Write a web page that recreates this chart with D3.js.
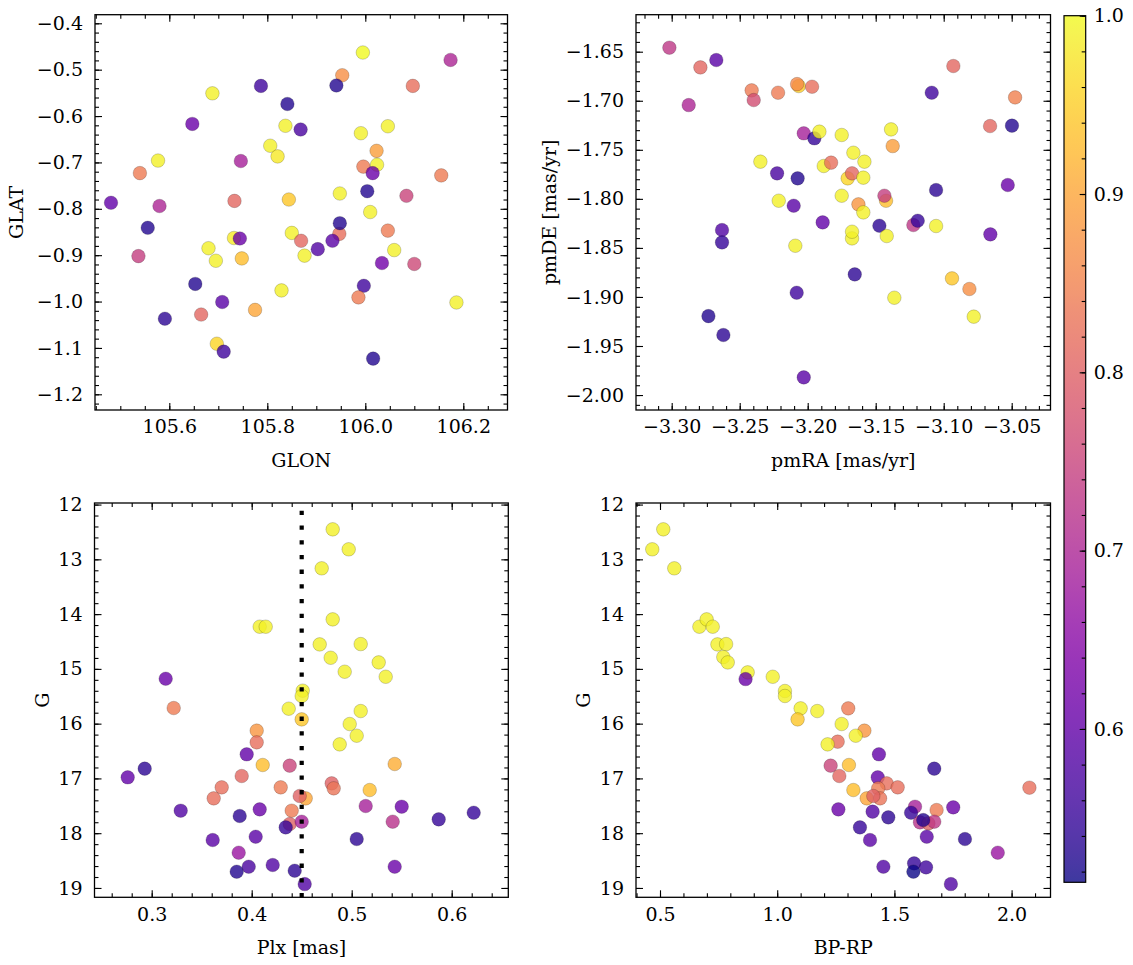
<!DOCTYPE html>
<html><head><meta charset="utf-8">
<script src="https://cdn.jsdelivr.net/npm/d3@7"></script>
<style>
body{margin:0;background:#fff}
</style>
</head><body>
<svg id="fig" width="1133" height="965"></svg>
<script>
// ---------------- data ----------------
// Panel 1: sky positions
const skyGLON = [105.995,106.174,105.953,105.941,106.097,105.787,105.688,105.841,105.647,105.837,105.868,105.991,106.046,105.806,105.821,106.023,106.024,105.996,106.015,105.577,105.746,105.540,106.155,106.004,106.084,105.948,105.481,105.580,105.733,105.844,106.010,105.556,105.947,105.948,106.046,105.732,105.744,105.850,105.869,105.903,105.933,105.680,106.059,105.537,105.695,105.748,105.876,106.034,106.100,105.653,105.997,105.829,105.986,105.708,105.775,106.186,105.591,105.665,105.697,105.711,106.016];
const skyGLAT = [-0.463,-0.479,-0.512,-0.534,-0.535,-0.535,-0.551,-0.574,-0.617,-0.621,-0.629,-0.637,-0.622,-0.664,-0.687,-0.675,-0.705,-0.709,-0.723,-0.696,-0.697,-0.723,-0.728,-0.762,-0.772,-0.767,-0.787,-0.794,-0.783,-0.780,-0.807,-0.841,-0.854,-0.831,-0.847,-0.863,-0.864,-0.852,-0.869,-0.887,-0.869,-0.885,-0.889,-0.902,-0.912,-0.907,-0.901,-0.917,-0.919,-0.962,-0.966,-0.976,-0.991,-1.001,-1.018,-1.002,-1.037,-1.028,-1.091,-1.108,-1.123];
const skyProb = [1.00,0.70,0.87,0.53,0.82,0.56,0.99,0.53,0.61,0.99,0.57,0.99,0.99,0.99,0.98,0.89,0.99,0.84,0.61,0.99,0.69,0.84,0.84,0.53,0.75,0.99,0.60,0.70,0.81,0.94,0.99,0.53,0.82,0.53,0.84,0.98,0.61,0.99,0.81,0.58,0.59,0.99,0.99,0.74,0.99,0.93,0.99,0.62,0.76,0.53,0.56,0.99,0.84,0.59,0.90,0.99,0.54,0.81,0.96,0.56,0.53];

// Panel 2: proper motions
const pmRA = [-3.3017,-3.2789,-3.2672,-3.2875,-3.2412,-3.2397,-3.2218,-3.2066,-3.2078,-3.1968,-3.1088,-3.0929,-3.0475,-3.0659,-3.0498,-3.2029,-3.1951,-3.1914,-3.1750,-3.1387,-3.1375,-3.2348,-3.1664,-3.1583,-3.1882,-3.1828,-3.2225,-3.2074,-3.1706,-3.1674,-3.1591,-3.1056,-3.0529,-3.2213,-3.2103,-3.1750,-3.1627,-3.1591,-3.1424,-3.1436,-3.1890,-3.1473,-3.1223,-3.1191,-3.1056,-3.1419,-3.1674,-3.1674,-3.0657,-3.2630,-3.2630,-3.2091,-3.1654,-3.2081,-3.0939,-3.0811,-3.1363,-3.0779,-3.2730,-3.2620,-3.2029];
const pmDE = [-1.6459,-1.6660,-1.6585,-1.7044,-1.6894,-1.6993,-1.6918,-1.6850,-1.6830,-1.6857,-1.6918,-1.6646,-1.6966,-1.7258,-1.7254,-1.7332,-1.7383,-1.7315,-1.7349,-1.7292,-1.7462,-1.7621,-1.7530,-1.7621,-1.7665,-1.7631,-1.7740,-1.7791,-1.7791,-1.7740,-1.7784,-1.7910,-1.7859,-1.8019,-1.8070,-1.7968,-1.8056,-1.8138,-1.8019,-1.7968,-1.8240,-1.8274,-1.8267,-1.8223,-1.8277,-1.8379,-1.8403,-1.8335,-1.8362,-1.8318,-1.8444,-1.8478,-1.8770,-1.8957,-1.8811,-1.8919,-1.9008,-1.9201,-1.9195,-1.9388,-1.9820];
const pmProb = [0.73,0.81,0.59,0.70,0.84,0.77,0.84,0.95,0.86,0.82,0.56,0.81,0.85,0.81,0.53,0.69,0.55,0.99,0.99,0.99,0.89,0.99,0.99,0.99,0.99,0.82,0.57,0.53,0.96,0.81,0.99,0.54,0.61,0.99,0.59,0.99,0.88,0.99,0.93,0.74,0.60,0.54,0.73,0.55,0.99,0.99,0.99,0.99,0.60,0.58,0.55,0.99,0.54,0.56,0.94,0.87,0.99,0.99,0.53,0.54,0.59];

// Panel 3: parallax vs G
const plxVal = [0.481,0.497,0.470,0.481,0.408,0.414,0.468,0.509,0.479,0.527,0.493,0.534,0.314,0.451,0.450,0.322,0.437,0.509,0.450,0.498,0.405,0.505,0.405,0.488,0.395,0.411,0.438,0.543,0.293,0.276,0.390,0.370,0.429,0.480,0.482,0.518,0.362,0.454,0.448,0.329,0.408,0.440,0.514,0.550,0.388,0.587,0.622,0.541,0.438,0.450,0.434,0.361,0.404,0.505,0.387,0.397,0.421,0.385,0.443,0.543,0.453];
const plxG = [12.452,12.817,13.164,14.096,14.230,14.230,14.553,14.547,14.797,14.882,15.052,15.144,15.180,15.398,15.495,15.715,15.727,15.770,15.922,16.007,16.128,16.220,16.341,16.378,16.560,16.755,16.767,16.737,16.822,16.980,16.956,17.163,17.163,17.090,17.181,17.212,17.364,17.364,17.321,17.589,17.565,17.589,17.504,17.516,17.686,17.747,17.626,17.790,17.833,17.790,17.894,18.125,18.064,18.107,18.356,18.612,18.581,18.703,18.685,18.612,18.929];
const plxProb = [0.99,0.99,0.99,0.99,0.99,0.99,0.99,0.99,0.99,0.99,0.99,0.99,0.61,0.99,0.99,0.84,0.99,0.99,0.94,0.99,0.88,0.99,0.82,0.99,0.60,0.93,0.75,0.91,0.54,0.60,0.81,0.82,0.84,0.80,0.83,0.93,0.82,0.90,0.80,0.58,0.61,0.84,0.69,0.61,0.54,0.55,0.55,0.72,0.80,0.69,0.55,0.59,0.59,0.54,0.67,0.57,0.58,0.53,0.54,0.61,0.58];
const plxLine = 0.45;

// Panel 4: colour-magnitude
const cmdBPRP = [0.514,0.467,0.561,0.668,0.699,0.725,0.745,0.782,0.770,0.789,0.874,0.981,0.865,1.033,1.033,1.100,1.171,1.087,1.303,1.275,1.372,1.335,1.258,1.215,1.434,1.306,1.228,1.670,1.265,1.429,1.467,1.514,2.076,1.325,1.431,1.382,1.439,1.410,1.261,1.588,1.751,1.680,1.407,1.474,1.571,1.609,1.645,1.670,1.623,1.353,1.638,1.396,1.801,1.941,1.453,1.584,1.635,1.581,1.741];
const cmdG = [12.452,12.817,13.164,14.230,14.096,14.230,14.553,14.547,14.785,14.882,15.064,15.144,15.186,15.404,15.495,15.721,15.770,15.922,15.721,16.007,16.128,16.220,16.329,16.378,16.560,16.755,16.767,16.822,16.956,16.980,17.090,17.163,17.169,17.212,17.181,17.364,17.364,17.321,17.565,17.516,17.528,17.577,17.607,17.711,17.626,17.802,17.820,17.790,17.760,17.894,18.064,18.125,18.107,18.356,18.612,18.551,18.624,18.703,18.929];
const cmdProb = [0.99,0.99,0.99,0.99,0.99,0.99,0.99,0.99,0.99,0.99,0.99,0.99,0.61,0.99,0.99,0.99,0.99,0.94,0.84,0.99,0.88,0.99,0.82,0.99,0.60,0.93,0.75,0.54,0.81,0.60,0.82,0.82,0.82,0.93,0.84,0.90,0.83,0.80,0.61,0.69,0.61,0.84,0.58,0.54,0.55,0.72,0.80,0.73,0.53,0.55,0.59,0.59,0.54,0.67,0.58,0.55,0.56,0.515,0.58];

// tick labels
const glonTicks = [105.6,105.8,106.0,106.2];
const glatTicks = [-0.4,-0.5,-0.6,-0.7,-0.8,-0.9,-1.0,-1.1,-1.2];
const pmraTicks = [-3.30,-3.25,-3.20,-3.15,-3.10,-3.05];
const pmdeTicks = [-1.65,-1.70,-1.75,-1.80,-1.85,-1.90,-1.95,-2.00];
const plxTicks = [0.3,0.4,0.5,0.6];
const gTicks = [12,13,14,15,16,17,18,19];
const bprpTicks = [0.5,1.0,1.5,2.0];
const cbarTicks = [0.6,0.7,0.8,0.9,1.0];
const probMin = 0.514, probMax = 1.0;

// ---------------- drawing ----------------
const FONT = "'DejaVu Serif', 'Liberation Serif', serif";
const svg = d3.select("#fig");
const cnorm = d3.scaleLinear().domain([probMin, probMax]).range([0,1]).clamp(true);
const cmap = p => d3.interpolatePlasma(cnorm(p));
const ALPHA = 0.8, R = 6.8, FS = 19;

function minorVals(dom, step) {
  const lo = Math.min(dom[0], dom[1]), hi = Math.max(dom[0], dom[1]);
  const a = Math.ceil(lo/step - 1e-9), b = Math.floor(hi/step + 1e-9);
  return d3.range(a, b+1).map(i => +(i*step).toFixed(6));
}
const axStyle = sel => {
  sel.attr("font-family", FONT).attr("font-size", FS);
  sel.select(".domain").remove();
  sel.selectAll("line").attr("stroke","#000").attr("stroke-width",1.1);
  sel.selectAll("text").attr("font-size",FS).attr("font-family",FONT).attr("fill","#000");
};

function panel(c) {
  const x = d3.scaleLinear().domain(c.xdom).range([c.x0, c.x1]);
  const y = d3.scaleLinear().domain(c.ydom).range([c.y0, c.y1]);
  const g = svg.append("g");
  const id = "clip" + c.name;
  svg.append("clipPath").attr("id", id).append("rect")
    .attr("x", c.x0).attr("y", c.y0).attr("width", c.x1-c.x0).attr("height", c.y1-c.y0);
  const pts = c.xs.map((v,i) => ({x:v, y:c.ys[i], p:c.ps[i]}));
  g.append("g").attr("clip-path", `url(#${id})`).selectAll("circle").data(pts).join("circle")
    .attr("cx", d => x(d.x)).attr("cy", d => y(d.y)).attr("r", R)
    .attr("fill", d => cmap(d.p)).attr("fill-opacity", ALPHA)
    .attr("stroke", "#000").attr("stroke-opacity", 0.3).attr("stroke-width", 0.6);
  if (c.extra) c.extra(g, x, y);
  const xMinor = minorVals(c.xdom, c.xMinorStep), yMinor = minorVals(c.ydom, c.yMinorStep);
  g.append("g").attr("transform",`translate(0,${c.y1})`).call(d3.axisBottom(x).tickValues(c.xTicks).tickSize(-7).tickPadding(10).tickFormat(d3.format(c.xFmt))).call(axStyle);
  g.append("g").attr("transform",`translate(0,${c.y1})`).call(d3.axisBottom(x).tickValues(xMinor).tickSize(-4).tickFormat("")).call(axStyle);
  g.append("g").attr("transform",`translate(0,${c.y0})`).call(d3.axisTop(x).tickValues(c.xTicks).tickSize(-7).tickFormat("")).call(axStyle);
  g.append("g").attr("transform",`translate(0,${c.y0})`).call(d3.axisTop(x).tickValues(xMinor).tickSize(-4).tickFormat("")).call(axStyle);
  g.append("g").attr("transform",`translate(${c.x0},0)`).call(d3.axisLeft(y).tickValues(c.yTicks).tickSize(-7).tickPadding(12).tickFormat(d3.format(c.yFmt))).call(axStyle);
  g.append("g").attr("transform",`translate(${c.x0},0)`).call(d3.axisLeft(y).tickValues(yMinor).tickSize(-4).tickFormat("")).call(axStyle);
  g.append("g").attr("transform",`translate(${c.x1},0)`).call(d3.axisRight(y).tickValues(c.yTicks).tickSize(-7).tickFormat("")).call(axStyle);
  g.append("g").attr("transform",`translate(${c.x1},0)`).call(d3.axisRight(y).tickValues(yMinor).tickSize(-4).tickFormat("")).call(axStyle);
  g.append("rect").attr("x",c.x0).attr("y",c.y0).attr("width",c.x1-c.x0).attr("height",c.y1-c.y0)
    .attr("fill","none").attr("stroke","#000").attr("stroke-width",1.3);
  g.append("text").attr("x",(c.x0+c.x1)/2).attr("y",c.y1+57).attr("text-anchor","middle")
    .attr("font-family",FONT).attr("font-size",FS).text(c.xLabel);
  g.append("text").attr("transform",`translate(${c.yLabelX},${(c.y0+c.y1)/2}) rotate(-90)`).attr("text-anchor","middle")
    .attr("font-family",FONT).attr("font-size",FS).text(c.yLabel);
}

const TOP0 = 14.7, TOP1 = 410, BOT0 = 503, BOT1 = 897.3;
const L0 = 95, L1 = 507.5, R0 = 636, R1 = 1050.5;

panel({name:"a", x0:L0, x1:L1, y0:TOP0, y1:TOP1,
  xdom:[105.6+(L0-169.3)/490, 105.6+(L1-169.3)/490], ydom:[-0.38146,-1.23385],
  xTicks:glonTicks, yTicks:glatTicks, xMinorStep:0.05, yMinorStep:0.02, xFmt:".1f", yFmt:".1f",
  xLabel:"GLON", yLabel:"GLAT", yLabelX:23, xs:skyGLON, ys:skyGLAT, ps:skyProb});

panel({name:"b", x0:R0, x1:R1, y0:TOP0, y1:TOP1,
  xdom:[-3.30+(R0-671.7)/1360, -3.30+(R1-671.7)/1360], ydom:[-1.61228,-2.01524],
  xTicks:pmraTicks, yTicks:pmdeTicks, xMinorStep:0.01, yMinorStep:0.01, xFmt:".2f", yFmt:".2f",
  xLabel:"pmRA [mas/yr]", yLabel:"pmDE [mas/yr]", yLabelX:556, xs:pmRA, ys:pmDE, ps:pmProb});

panel({name:"c", x0:94.5, x1:508.3, y0:BOT0, y1:BOT1,
  xdom:[0.3+(94.5-151.7)/1000, 0.3+(508.3-151.7)/1000], ydom:[12+(BOT0-504.57)/54.77, 12+(BOT1-504.57)/54.77],
  xTicks:plxTicks, yTicks:gTicks, xMinorStep:0.02, yMinorStep:0.2, xFmt:".1f", yFmt:"d",
  xLabel:"Plx [mas]", yLabel:"G", yLabelX:48.5, xs:plxVal, ys:plxG, ps:plxProb,
  extra:(g,x,y)=>{
    g.append("line").attr("x1",x(plxLine)).attr("x2",x(plxLine)).attr("y1",y.range()[1]).attr("y2",y.range()[0])
      .attr("stroke","#000").attr("stroke-width",4.2).attr("stroke-dasharray","4.3 10.4");
  }});

panel({name:"d", x0:R0, x1:R1, y0:BOT0, y1:BOT1,
  xdom:[0.5+(R0-660)/234.4, 0.5+(R1-660)/234.4], ydom:[12+(BOT0-504.57)/54.77, 12+(BOT1-504.57)/54.77],
  xTicks:bprpTicks, yTicks:gTicks, xMinorStep:0.1, yMinorStep:0.2, xFmt:".1f", yFmt:"d",
  xLabel:"BP-RP", yLabel:"G", yLabelX:590, xs:cmdBPRP, ys:cmdG, ps:cmdProb});

// ---------------- colorbar ----------------
const cb = {x0:1064, x1:1085.7, y0:15.7, y1:882.3};
const cy = d3.scaleLinear().domain([probMax, probMin]).range([cb.y0, cb.y1]);
const grad = svg.append("defs").append("linearGradient").attr("id","cbg").attr("x1",0).attr("x2",0).attr("y1",1).attr("y2",0);
d3.range(0,1.0001,0.02).forEach(t => grad.append("stop").attr("offset",t).attr("stop-color",d3.interpolatePlasma(t)));
svg.append("rect").attr("x",cb.x0).attr("y",cb.y0).attr("width",cb.x1-cb.x0).attr("height",cb.y1-cb.y0)
  .attr("fill","url(#cbg)").attr("fill-opacity",ALPHA);
const cbMinor = minorVals([probMin, probMax], 0.02);
svg.append("g").attr("transform",`translate(${cb.x1},0)`).call(d3.axisRight(cy).tickValues(cbarTicks).tickSize(-6).tickPadding(8).tickFormat(d3.format(".1f"))).call(axStyle);
svg.append("g").attr("transform",`translate(${cb.x1},0)`).call(d3.axisRight(cy).tickValues(cbMinor).tickSize(-4).tickFormat("")).call(axStyle);
svg.append("rect").attr("x",cb.x0).attr("y",cb.y0).attr("width",cb.x1-cb.x0).attr("height",cb.y1-cb.y0)
  .attr("fill","none").attr("stroke","#000").attr("stroke-width",1.2);
</script>
</body></html>
